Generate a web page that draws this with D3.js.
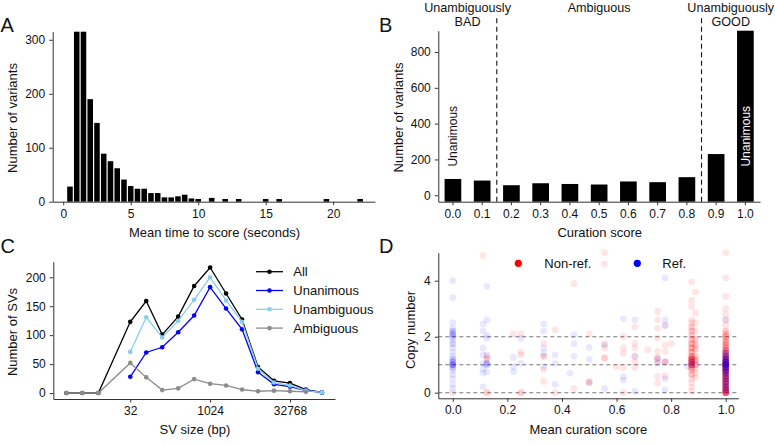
<!DOCTYPE html>
<html><head><meta charset="utf-8">
<script src="https://cdn.jsdelivr.net/npm/d3@7/dist/d3.min.js"></script>
<style>
body{margin:0;background:#fff;}
text{font-family:"Liberation Sans",Arial,Helvetica,sans-serif;fill:#111;}
</style></head>
<body>
<svg id="fig" width="775" height="445"></svg>
<script>
// ---------- DATA ----------
// Panel A: histogram of mean time to score (bin centres, counts)
const timeBins   = [0.5,1.0,1.5,2.0,2.5,3.0,3.5,4.0,4.5,5.0,5.5,6.0,6.5,7.0,7.5,8.0,8.5,9.0,9.5,10.0,11.0,12.0,13.0,15.0,16.0,19.5,22.0];
const timeCounts = [28,330,325,190,146,89,75,62,41,29,24,24,16,16,8,8,10,13,6,5,7,5,5,5,5,5,5];
const timeTicks  = [0,5,10,15,20];
const countTicksA = [0,100,200,300];

// Panel B: curation score counts
const scoreLabels = ["0.0","0.1","0.2","0.3","0.4","0.5","0.6","0.7","0.8","0.9","1.0"];
const scoreCounts = [91,82,56,67,63,60,77,73,101,230,919];
const countTicksB = [0,200,400,600,800];
const groupHeaders = [
  {from:"0.0", to:"0.1", lines:["Unambiguously","BAD"]},
  {from:"0.2", to:"0.8", lines:["Ambiguous"]},
  {from:"0.9", to:"1.0", lines:["Unambiguously","GOOD"]}
];
const unanimousBars = ["0.0","1.0"];

// Panel C: SVs by size
const svSizes     = [2,4,8,32,64,128,256,512,1024,2048,4096,8192,16384,32768,65536,131072];
const allSV       = [0,0,0,123,159,101,132,185,217,172,127,45,21,17,6,1];
const unanimousSV = [null,null,null,28,70,79,105,134,183,146,110,36,15,11,4,1];
const unambigSV   = [null,null,null,71,131,96,125,161,200,160,123,42,18,13,4,1];
const ambigSV     = [0,0,0,52,27,5,8,24,16,13,6,3,4,3,2,null];
const sizeTicks   = [32,1024,32768];
const countTicksC = [0,50,100,150,200];
const seriesNames = ["All","Unanimous","Unambiguous","Ambiguous"];

// Panel D: copy number vs mean curation score  [score, copy number, overlapping points]
const nonRefPts = [
 [0,0,1],[0,1.0,1],
 [0.111,4.9,1],
 [0.125,1.2,2],[0.125,1.3,1],[0.125,0,2],
 [0.222,2.1,1],
 [0.25,2.1,1],[0.25,1.45,1],[0.25,1.35,1],[0.25,0,2],
 [0.333,1.77,1],[0.333,1.3,2],[0.333,0.82,1],[0.333,0.4,1],
 [0.375,2.25,1],[0.375,0,1],
 [0.444,3.9,1],[0.444,0.15,1],
 [0.5,2.1,1],[0.5,0.4,1],[0.5,0.35,1],
 [0.556,5.0,1],[0.556,4.6,1],[0.556,1.75,1],[0.556,1.6,1],[0.556,1.24,2],
 [0.6,0.93,1],
 [0.625,2.0,1],[0.625,1.6,1],[0.625,1.4,1],[0.625,0.9,1],[0.625,0,1],
 [0.667,2.35,1],[0.667,1.77,1],[0.667,1.6,1],[0.667,1.3,1],[0.667,1.1,1],[0.667,0.9,1],
 [0.714,1.53,1],
 [0.75,2.9,1],[0.75,2.6,1],[0.75,2.3,1],[0.75,1.95,1],[0.75,1.47,1],[0.75,1.24,2],[0.75,1.1,1],[0.75,0.58,1],[0.75,0.35,1],
 [0.778,2.4,1],[0.778,1.7,1],[0.778,1.47,1],[0.778,1.1,2],[0.778,0.6,1],
 [0.8,1.75,1],
 [0.875,3.96,1],[0.875,3.3,1],[0.875,3.07,1],[0.875,2.6,1],[0.875,2.5,1],[0.875,2.35,2],[0.875,2.2,2],[0.875,2.05,2],
 [0.875,1.9,2],[0.875,1.75,3],[0.875,1.6,3],[0.875,1.45,3],[0.875,1.3,4],[0.875,1.2,5],[0.875,1.1,6],[0.875,1.0,6],
 [0.875,0.9,3],[0.875,0.8,2],[0.875,0.65,2],[0.875,0.5,1],[0.875,0.35,1],[0.875,0.2,1],[0.875,0.05,1],
 [0.889,3.6,1],[0.889,2.85,1],[0.889,2.5,1],[0.889,2.2,1],[0.889,1.9,2],[0.889,1.7,2],[0.889,1.55,2],[0.889,1.3,2],
 [0.889,1.15,3],[0.889,1.0,2],[0.889,0.85,1],[0.889,0.7,1],[0.889,0.55,1],
 [1,5.0,1],[1,4.1,1],[1,3.44,1],[1,3.0,1],[1,2.8,1],[1,2.6,1],[1,2.4,1],[1,2.2,2],[1,2.1,2],[1,2.0,3],[1,1.9,2],
 [1,1.8,3],[1,1.7,3],[1,1.6,3],[1,1.5,4],[1,1.4,4],[1,1.3,5],[1,1.2,6],[1,1.1,8],[1,1.0,10],[1,0.9,8],[1,0.8,7],
 [1,0.7,6],[1,0.6,6],[1,0.5,6],[1,0.4,6],[1,0.3,6],[1,0.2,6],[1,0.1,7],[1,0.0,8]
];
const refPts = [
 [0,4.0,1],[0,3.4,1],[0,2.5,1],[0,2.3,1],[0,2.2,2],[0,2.1,3],[0,2.0,2],[0,1.9,1],[0,1.75,2],[0,1.6,1],[0,1.45,1],
 [0,1.3,1],[0,1.2,2],[0,1.1,3],[0,1.0,4],[0,0.9,2],[0,0.8,1],[0,0.65,1],[0,0.5,1],[0,0.3,1],[0,0.15,1],
 [0.111,2.45,1],[0.111,2.2,1],[0.111,1.6,1],[0.111,1.35,1],[0.111,1.05,1],[0.111,0.85,1],[0.111,0.7,1],[0.111,0.21,1],
 [0.125,3.8,1],[0.125,2.6,1],[0.125,2.05,1],[0.125,1.94,1],[0.125,1.35,1],[0.125,1.05,2],[0.125,1.0,2],[0.125,0.75,1],
 [0.222,1.26,1],[0.222,0.93,1],[0.222,0.75,1],
 [0.25,1.94,1],[0.25,1.05,1],
 [0.333,2.45,1],[0.333,2.2,1],[0.333,1.6,1],[0.333,1.4,1],[0.333,0.94,1],
 [0.375,1.35,1],[0.375,1.05,1],[0.375,0.3,1],
 [0.43,0.7,1],
 [0.444,2.07,1],[0.444,1.75,1],[0.444,1.3,1],
 [0.5,1.62,1],[0.5,1.19,1],[0.5,0.36,1],
 [0.556,1.7,1],[0.556,0.15,1],
 [0.625,2.64,1],[0.625,0.57,1],[0.625,0.45,1],
 [0.667,2.6,1],[0.667,1.3,1],[0.667,0.05,1],
 [0.75,1.2,1],[0.75,1.05,1],
 [0.778,4.1,1],[0.778,2.6,1],[0.778,2.4,1],[0.778,1.1,1],[0.778,0.5,1],[0.778,0.1,1],
 [0.86,0.94,1],
 [0.875,1.2,1],[0.875,1.1,1],[0.875,1.0,1],
 [0.889,1.0,1],
 [1,2.6,1],[1,1.5,1],[1,1.4,2],[1,1.3,3],[1,1.2,4],[1,1.1,6],[1,1.0,7],[1,0.9,5],[1,0.8,4],[1,0.7,3],[1,0.6,2],
 [1,0.5,2],[1,0.4,2],[1,0.3,2],[1,0.2,2],[1,0.1,2],[1,0,1]
];
const scoreTicksD = [0,0.2,0.4,0.6,0.8,1.0];
const cnTicks = [0,2,4];
const cnGuides = [0,1,2];
const legendD = ["Non-ref.","Ref."];

// ---------- DRAWING ----------
const svg = d3.select("#fig");
const AX = "#333";
const FS_TICK = 12, FS_TITLE = 13;

function styleAxis(g){
  g.selectAll("path.domain").attr("stroke",AX).attr("stroke-width",1);
  g.selectAll(".tick line").attr("stroke",AX).attr("stroke-width",1);
  g.selectAll(".tick text").attr("font-size",FS_TICK).attr("fill","#111")
    .attr("font-family",'"Liberation Sans",Arial,sans-serif');
}
function panelLetter(t,x,y){
  svg.append("text").attr("x",x).attr("y",y).attr("font-size",20).text(t);
}
function title(t,x,y,rot){
  const e = svg.append("text").attr("font-size",FS_TITLE).attr("text-anchor","middle").attr("dy","0.35em").text(t);
  if(rot) e.attr("transform",`translate(${x},${y}) rotate(-90)`);
  else e.attr("x",x).attr("y",y);
}

// ===== Panel A =====
{
  const x = d3.scaleLinear().domain([-0.78,23.1]).range([52.7,375]);
  const yMax = 315;
  const y = d3.scaleLinear().domain([0,yMax]).range([201.7,31.7]);
  const bw = x(0.5)-x(0);
  svg.append("g").selectAll("rect").data(timeBins).join("rect")
    .attr("x",(d)=>x(d-0.25)+0.6).attr("width",bw-1.2)
    .attr("y",(d,i)=>y(Math.min(timeCounts[i],yMax)))
    .attr("height",(d,i)=>y(0)-y(Math.min(timeCounts[i],yMax)))
    .attr("fill","#000");
  svg.append("g").attr("transform",`translate(0,${y(0)})`)
    .call(d3.axisBottom(x).tickValues(timeTicks).tickFormat(d3.format("d")).tickSize(3.5).tickPadding(4).tickSizeOuter(0)).call(styleAxis);
  svg.append("g").attr("transform",`translate(${x.range()[0]},0)`)
    .call(d3.axisLeft(y).tickValues(countTicksA).tickFormat(d3.format("d")).tickSize(3.5).tickPadding(4).tickSizeOuter(0)).call(styleAxis);
  title("Mean time to score (seconds)",214.5,232.3);
  title("Number of variants",12.7,118,true);
  panelLetter("A",0.5,32);
}

// ===== Panel B =====
{
  const x = d3.scaleBand().domain(scoreLabels).range([438.3,760]).paddingInner(0.43).paddingOuter(0.215);
  const y = d3.scaleLinear().domain([-36,919]).range([201.7,30.7]);
  const y0 = y.domain()[0];
  svg.append("g").selectAll("rect").data(scoreLabels).join("rect")
    .attr("x",d=>x(d)).attr("width",x.bandwidth())
    .attr("y",(d,i)=>y(scoreCounts[i])).attr("height",(d,i)=>y(y0)-y(scoreCounts[i]))
    .attr("fill","#000");
  const sep = [ (x("0.1")+x.bandwidth()+x("0.2"))/2, (x("0.8")+x.bandwidth()+x("0.9"))/2 ];
  svg.append("g").selectAll("line").data(sep).join("line")
    .attr("x1",d=>d).attr("x2",d=>d).attr("y1",y(y0)).attr("y2",y(1005))
    .attr("stroke","#111").attr("stroke-width",1.1).attr("stroke-dasharray","5,3.5");
  groupHeaders.forEach(h=>{
    const cx = (x(h.from)+x(h.to)+x.bandwidth())/2;
    h.lines.forEach((l,j)=>{
      svg.append("text").attr("x",cx).attr("y",7.5+j*14.3).attr("dy","0.35em")
        .attr("text-anchor","middle").attr("font-size",12.6).attr("fill","#222").text(l);
    });
  });
  unanimousBars.forEach((b,i)=>{
    const cx = x(b)+x.bandwidth()/2, cy = y(160);
    svg.append("text").attr("transform",`translate(${cx},${cy}) rotate(-90)`)
      .attr("dy","0.35em").attr("font-size",12).attr("text-anchor","start")
      .style("fill", i===0 ? "#111" : "#fff").text("Unanimous");
  });
  svg.append("g").attr("transform",`translate(0,${y(y0)})`)
    .call(d3.axisBottom(x).tickSize(3.5).tickPadding(4).tickSizeOuter(0)).call(styleAxis);
  svg.append("g").attr("transform",`translate(438.3,0)`)
    .call(d3.axisLeft(y).tickValues(countTicksB).tickFormat(d3.format("d")).tickSize(3.5).tickPadding(4).tickSizeOuter(0)).call(styleAxis);
  title("Curation score",599.7,232.3);
  title("Number of variants",398.3,117.5,true);
  panelLetter("B",379,32);
}

// ===== Panel C =====
{
  const x = d3.scaleLog().base(2).domain([Math.pow(2,0.18),Math.pow(2,17.82)]).range([53.3,335]);
  const y = d3.scaleLinear().domain([-10.4,227]).range([399,261.7]);
  const colors = {"All":"#000000","Unanimous":"#0000ff","Unambiguous":"#87ceeb","Ambiguous":"#8c8c8c"};
  const data = {"All":allSV,"Unanimous":unanimousSV,"Unambiguous":unambigSV,"Ambiguous":ambigSV};
  const line = d3.line().defined(d=>d[1]!==null).x(d=>x(d[0])).y(d=>y(d[1]));
  seriesNames.forEach(name=>{
    const pts = svSizes.map((s,i)=>[s,data[name][i]]);
    const g = svg.append("g");
    g.append("path").attr("d",line(pts)).attr("fill","none").attr("stroke",colors[name]).attr("stroke-width",1.3);
    g.selectAll("circle").data(pts.filter(d=>d[1]!==null)).join("circle")
      .attr("cx",d=>x(d[0])).attr("cy",d=>y(d[1])).attr("r",2.3).attr("fill",colors[name]);
  });
  svg.append("g").attr("transform",`translate(0,399)`)
    .call(d3.axisBottom(x).tickValues(sizeTicks).tickFormat(d3.format("d")).tickSize(3.5).tickPadding(4).tickSizeOuter(0)).call(styleAxis);
  svg.append("g").attr("transform",`translate(53.3,0)`)
    .call(d3.axisLeft(y).tickValues(countTicksC).tickFormat(d3.format("d")).tickSize(3.5).tickPadding(4).tickSizeOuter(0)).call(styleAxis);
  seriesNames.forEach((name,i)=>{
    const ly = 271.7 + i*18.8;
    svg.append("line").attr("x1",256).attr("x2",283).attr("y1",ly).attr("y2",ly).attr("stroke",colors[name]).attr("stroke-width",1.3);
    svg.append("circle").attr("cx",269.5).attr("cy",ly).attr("r",2.3).attr("fill",colors[name]);
    svg.append("text").attr("x",293.3).attr("y",ly).attr("dy","0.35em").attr("font-size",FS_TITLE).text(name);
  });
  title("SV size (bp)",195,429.3);
  title("Number of SVs",12.7,332,true);
  panelLetter("C",0.5,253);
}

// ===== Panel D =====
{
  const x = d3.scaleLinear().domain([-0.053,1.046]).range([438.3,738.3]);
  const y = d3.scaleLinear().domain([-0.2,5]).range([398.3,252.7]);
  svg.append("g").selectAll("line").data(cnGuides).join("line")
    .attr("x1",x.range()[0]).attr("x2",x.range()[1]).attr("y1",d=>y(d)).attr("y2",d=>y(d))
    .attr("stroke","#777").attr("stroke-width",1.1).attr("stroke-dasharray","4,3");
  const expand = arr => arr.flatMap(d=>Array.from({length:d[2]},()=>d));
  svg.append("g").selectAll("circle").data(expand(nonRefPts)).join("circle")
    .attr("cx",d=>x(d[0])).attr("cy",d=>y(d[1])).attr("r",3.4).attr("fill","#ff0000").attr("fill-opacity",0.1);
  svg.append("g").selectAll("circle").data(expand(refPts)).join("circle")
    .attr("cx",d=>x(d[0])).attr("cy",d=>y(d[1])).attr("r",3.4).attr("fill","#0000ff").attr("fill-opacity",0.09);
  svg.append("g").attr("transform",`translate(0,398.3)`)
    .call(d3.axisBottom(x).tickValues(scoreTicksD).tickFormat(d3.format(".1f")).tickSize(3.5).tickPadding(4).tickSizeOuter(0)).call(styleAxis);
  svg.append("g").attr("transform",`translate(438.3,0)`)
    .call(d3.axisLeft(y).tickValues(cnTicks).tickFormat(d3.format("d")).tickSize(3.5).tickPadding(4).tickSizeOuter(0)).call(styleAxis);
  const legCol = ["#ff0000","#0000ff"], legDot=[518.3,637.3], legTxt=[544.3,662.3];
  legendD.forEach((t,i)=>{
    svg.append("circle").attr("cx",legDot[i]).attr("cy",263.3).attr("r",3.6).attr("fill",legCol[i]);
    svg.append("text").attr("x",legTxt[i]).attr("y",263.3).attr("dy","0.35em").attr("font-size",FS_TITLE).text(t);
  });
  title("Mean curation score",588.3,429.3);
  title("Copy number",410,330,true);
  panelLetter("D",379,253);
}
</script>
</body></html>
